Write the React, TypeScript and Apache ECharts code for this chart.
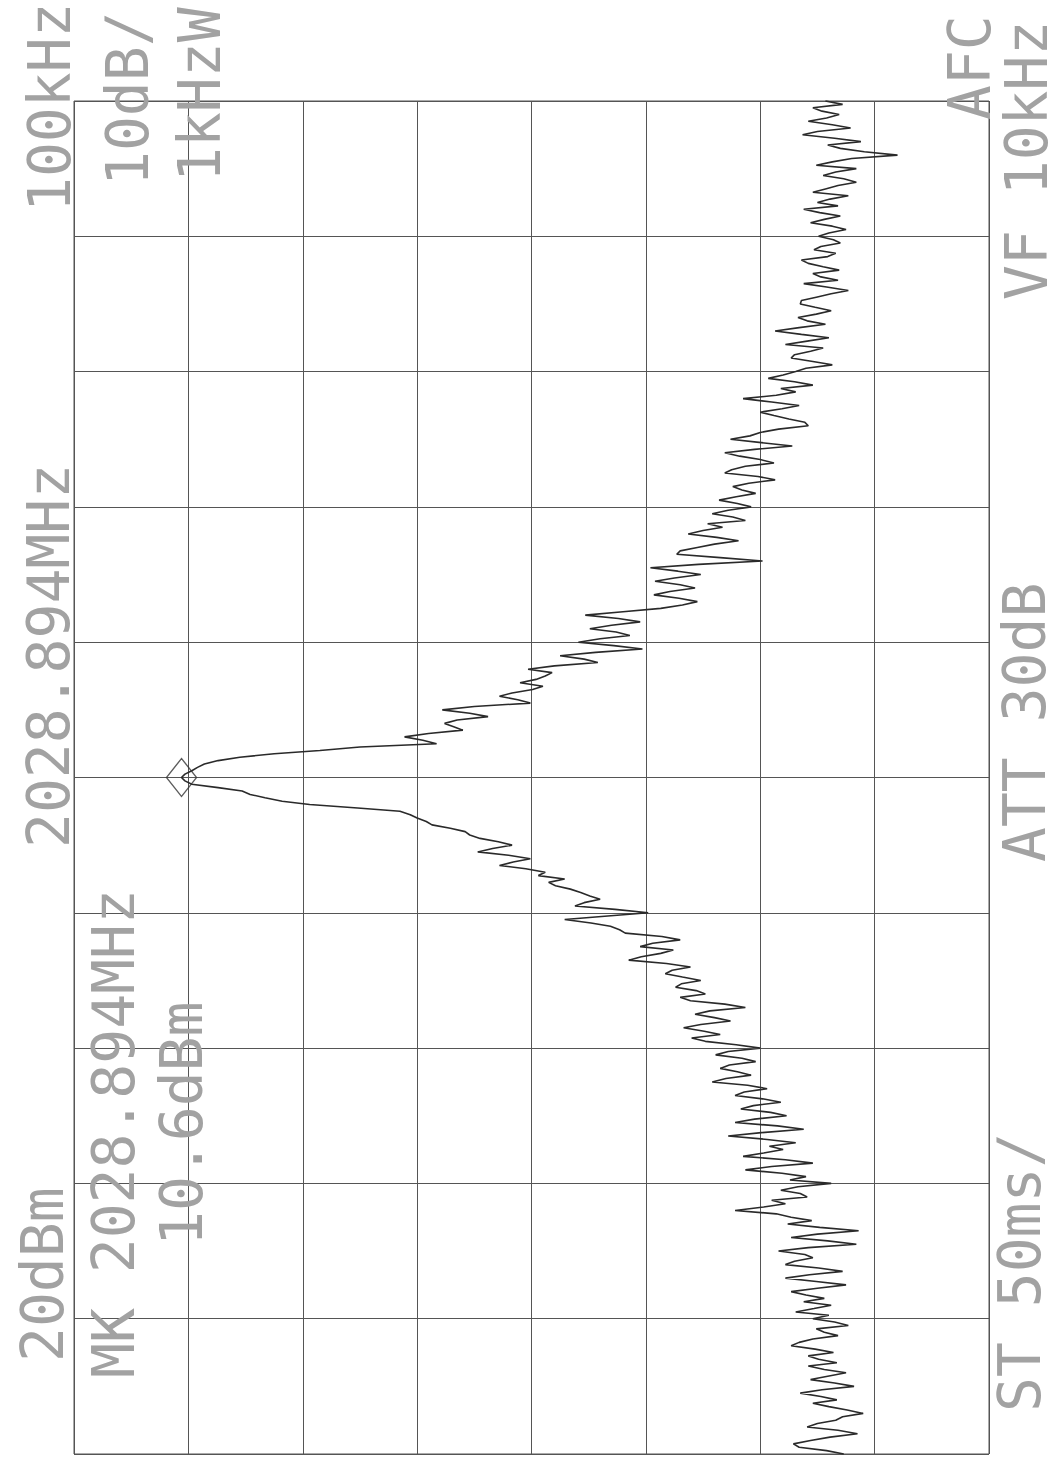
import React, { useEffect, useRef } from "react";
import * as echarts from "echarts";

// Spectrum analyser plot (page scanned rotated 90° counter-clockwise):
// amplitude axis runs left→right (20 dBm ref at left, 10 dB/div),
// frequency axis runs bottom→top (centre 2028.894 MHz, span 100 kHz).

const AMP_MIN_DBM = -60;
const AMP_MAX_DBM = 20;
const AMP_DIV_DB = 10;
const FREQ_MIN_KHZ = -50;
const FREQ_MAX_KHZ = 50;
const FREQ_DIV_KHZ = 10;
const FREQ_STEP_KHZ = 0.25;

// Trace amplitude (dBm) sampled every 0.25 kHz, from +50 kHz offset down to -50 kHz offset
const TRACE_DBM = [
  // +50 .. +45.25
  -45.7, -47.2, -44.6, -45.4, -46.9, -45.8, -44.2, -46.3, -47.9, -45.0,
  -43.7, -46.5, -48.8, -45.9, -47.0, -49.1, -52.0, -48.0, -46.3, -44.9,
  // +45 .. +40.25
  -48.4, -46.6, -45.5, -47.3, -48.4, -46.8, -45.7, -44.6, -47.7, -46.1,
  -45.0, -46.8, -43.8, -45.2, -47.0, -45.6, -44.4, -46.3, -47.5, -46.0,
  // +40 .. +35.25
  -45.1, -46.4, -47.0, -45.3, -44.7, -46.6, -45.9, -43.6, -44.2, -45.5,
  -46.9, -44.6, -45.3, -46.8, -43.8, -45.8, -47.7, -46.2, -44.9, -43.6,
  // +35 .. +30.25
  -43.5, -44.8, -46.2, -44.9, -43.3, -44.1, -45.7, -43.4, -41.3, -43.6,
  -46.0, -44.1, -42.2, -45.5, -44.4, -43.0, -42.7, -44.6, -46.3, -44.0,
  // +30 .. +25.25
  -43.1, -42.0, -40.7, -43.0, -44.6, -41.8, -43.1, -41.4, -38.5, -41.0,
  -43.4, -41.9, -40.0, -41.2, -42.5, -43.9, -44.2, -41.6, -40.0, -39.1,
  // +25 .. +20.25
  -37.4, -40.1, -42.8, -39.5, -36.9, -38.2, -40.0, -41.2, -38.7, -37.5,
  -36.9, -39.8, -41.3, -39.0, -37.6, -38.4, -39.6, -37.9, -36.4, -38.0,
  // +20 .. +15.25
  -39.2, -37.2, -35.8, -37.6, -38.7, -35.4, -36.7, -35.0, -33.7, -36.2,
  -38.1, -36.0, -34.5, -33.0, -32.7, -36.5, -40.2, -34.6, -30.4, -32.8,
  // +15 .. +10.25
  -34.8, -32.5, -30.8, -33.0, -34.3, -32.1, -30.7, -32.9, -34.5, -33.2,
  -31.3, -28.0, -24.7, -27.6, -29.5, -27.0, -25.1, -27.4, -28.6, -26.0,
  // +10 .. +5.25
  -24.1, -27.2, -29.7, -25.6, -22.5, -24.6, -25.8, -22.0, -19.7, -21.8,
  -21.2, -20.4, -19.0, -21.0, -20.1, -18.3, -17.2, -18.8, -19.9, -15.0,
  // +5 .. +0.25
  -12.2, -14.6, -16.2, -13.5, -12.4, -13.2, -14.0, -11.0, -8.9, -10.5,
  -11.7, -5.0, -1.5, 2.5, 5.5, 7.4, 8.6, 9.2, 9.7, 10.3,
  // 0, -0.25
  10.6, 10.3,
  // -0.5 .. -5.25
  9.7, 7.4, 5.3, 4.6, 3.3, 1.8, -0.6, -4.8, -8.5, -9.4,
  -10.0, -10.8, -11.3, -12.9, -14.2, -14.6, -15.5, -17.1, -18.3, -16.6,
  // -5.5 .. -10.25
  -15.3, -18.0, -19.9, -18.4, -17.2, -19.5, -21.2, -20.6, -22.9, -21.5,
  -22.1, -23.4, -24.3, -25.1, -26.0, -24.6, -23.8, -27.3, -30.2, -26.4,
  // -10.5 .. -15.25
  -22.9, -25.2, -26.9, -27.7, -28.2, -31.4, -33.0, -30.6, -29.5, -32.4,
  -31.3, -29.6, -28.5, -31.8, -33.9, -32.3, -31.7, -33.2, -34.8, -33.1,
  // -15.5 .. -20.25
  -32.6, -34.4, -35.2, -33.0, -33.9, -36.9, -38.7, -35.6, -34.3, -36.0,
  -37.4, -34.8, -33.3, -35.1, -36.5, -34.0, -35.2, -37.9, -40.0, -37.2,
  // -20.5 .. -25.25
  -36.1, -38.4, -39.6, -37.3, -36.5, -38.0, -39.2, -37.0, -35.8, -38.9,
  -40.6, -38.6, -37.8, -40.2, -41.8, -39.4, -38.3, -40.9, -42.3, -39.5,
  // -25.5 .. -30.25
  -37.8, -41.5, -43.8, -40.1, -37.2, -40.6, -43.1, -40.8, -42.0, -40.3,
  -38.5, -42.2, -44.6, -41.0, -38.7, -41.9, -44.0, -42.6, -46.2, -43.3,
  // -30.5 .. -35.25
  -41.8, -43.5, -44.1, -41.0, -42.2, -40.3, -37.8, -41.4, -42.7, -44.5,
  -42.4, -45.2, -48.6, -45.0, -42.7, -45.9, -48.4, -44.2, -41.6, -43.9,
  // -35.5 .. -40.25
  -44.6, -43.0, -42.2, -45.1, -47.2, -44.3, -42.2, -44.9, -47.5, -45.0,
  -42.7, -44.0, -45.6, -43.8, -46.2, -44.7, -43.1, -46.0, -44.6, -46.5,
  // -40.5 .. -45.25
  -47.7, -44.9, -45.6, -46.8, -44.6, -43.4, -42.7, -44.8, -46.4, -44.2,
  -45.1, -46.7, -44.2, -45.6, -47.5, -45.9, -44.4, -46.5, -48.2, -45.4,
  // -45.5 .. -50
  -43.5, -45.3, -46.7, -44.6, -46.0, -47.6, -49.0, -47.2, -46.6, -45.0,
  -44.1, -46.8, -48.5, -46.1, -44.4, -42.9, -43.4, -45.8, -47.3,
];

const MARKER_OFFSET_KHZ = 0;
const MARKER_DBM = 10.6;

const TXT_SPAN = "100kHz";
const TXT_SCALE = "10dB/";
const TXT_RBW = "1kHzW";
const TXT_AFC = "AFC";
const TXT_VBW = "VF 10kHz";
const TXT_CENTER = "2028.894MHz";
const TXT_ATT = "ATT 30dB";
const TXT_REF = "20dBm";
const TXT_MK = "MK 2028.894MHz";
const TXT_MK_LVL = "10.6dBm";
const TXT_SWEEP = "ST 50ms/";

// layout: x = column centre, y = bottom start of the rotated text
const TEXT_LAYOUT: [string, number, number][] = [
  [TXT_SPAN, 50, 212],
  [TXT_SCALE, 128, 186],
  [TXT_RBW, 200, 182],
  [TXT_AFC, 970, 120],
  [TXT_VBW, 1027, 300],
  [TXT_CENTER, 49, 848],
  [TXT_ATT, 1025, 862],
  [TXT_REF, 43, 1362],
  [TXT_MK, 114, 1378],
  [TXT_MK_LVL, 182, 1246],
  [TXT_SWEEP, 1020, 1412],
];

export default function App() {
  const ref = useRef<HTMLDivElement>(null);

  useEffect(() => {
    if (!ref.current) return;
    const chart = echarts.init(ref.current, undefined, { renderer: "svg" });

    const traceData = TRACE_DBM.map((v, i) => [v, FREQ_MAX_KHZ - i * FREQ_STEP_KHZ]);

    const graphics = TEXT_LAYOUT.map(([text, x, y]) => ({
      type: "text",
      x,
      y,
      rotation: Math.PI / 2,
      silent: true,
      z: 10,
      style: {
        text,
        fontFamily: "DejaVu Sans Mono",
        fontSize: 58,
        fill: "#a2a2a2",
        align: "left",
        verticalAlign: "middle",
        textAlign: "left",
        textVerticalAlign: "middle",
      },
    }));

    const gridLine = { color: "#555", width: 1 };

    chart.setOption({
      animation: false,
      backgroundColor: "#ffffff",
      grid: {
        left: 74,
        top: 101,
        width: 915,
        height: 1353,
        show: true,
        borderColor: "#555",
        borderWidth: 1,
        backgroundColor: "transparent",
      },
      xAxis: {
        type: "value",
        min: AMP_MIN_DBM,
        max: AMP_MAX_DBM,
        interval: AMP_DIV_DB,
        inverse: true,
        axisLine: { show: false },
        axisTick: { show: false },
        axisLabel: { show: false },
        splitLine: { show: true, lineStyle: gridLine },
      },
      yAxis: {
        type: "value",
        min: FREQ_MIN_KHZ,
        max: FREQ_MAX_KHZ,
        interval: FREQ_DIV_KHZ,
        axisLine: { show: false },
        axisTick: { show: false },
        axisLabel: { show: false },
        splitLine: { show: true, lineStyle: gridLine },
      },
      series: [
        {
          type: "line",
          data: traceData,
          showSymbol: false,
          silent: true,
          clip: false,
          lineStyle: { color: "#2a2a2a", width: 1.6 },
          z: 3,
        },
        {
          type: "scatter",
          data: [[MARKER_DBM, MARKER_OFFSET_KHZ]],
          symbol: "diamond",
          symbolSize: [30, 38],
          silent: true,
          itemStyle: { color: "rgba(0,0,0,0)", borderColor: "#333", borderWidth: 1.4 },
          z: 4,
        },
      ],
      graphic: graphics,
    });

    return () => chart.dispose();
  }, []);

  return (
    <div
      ref={ref}
      style={{ position: "fixed", left: 0, top: 0, width: 1063, height: 1479, background: "#fff" }}
    />
  );
}
